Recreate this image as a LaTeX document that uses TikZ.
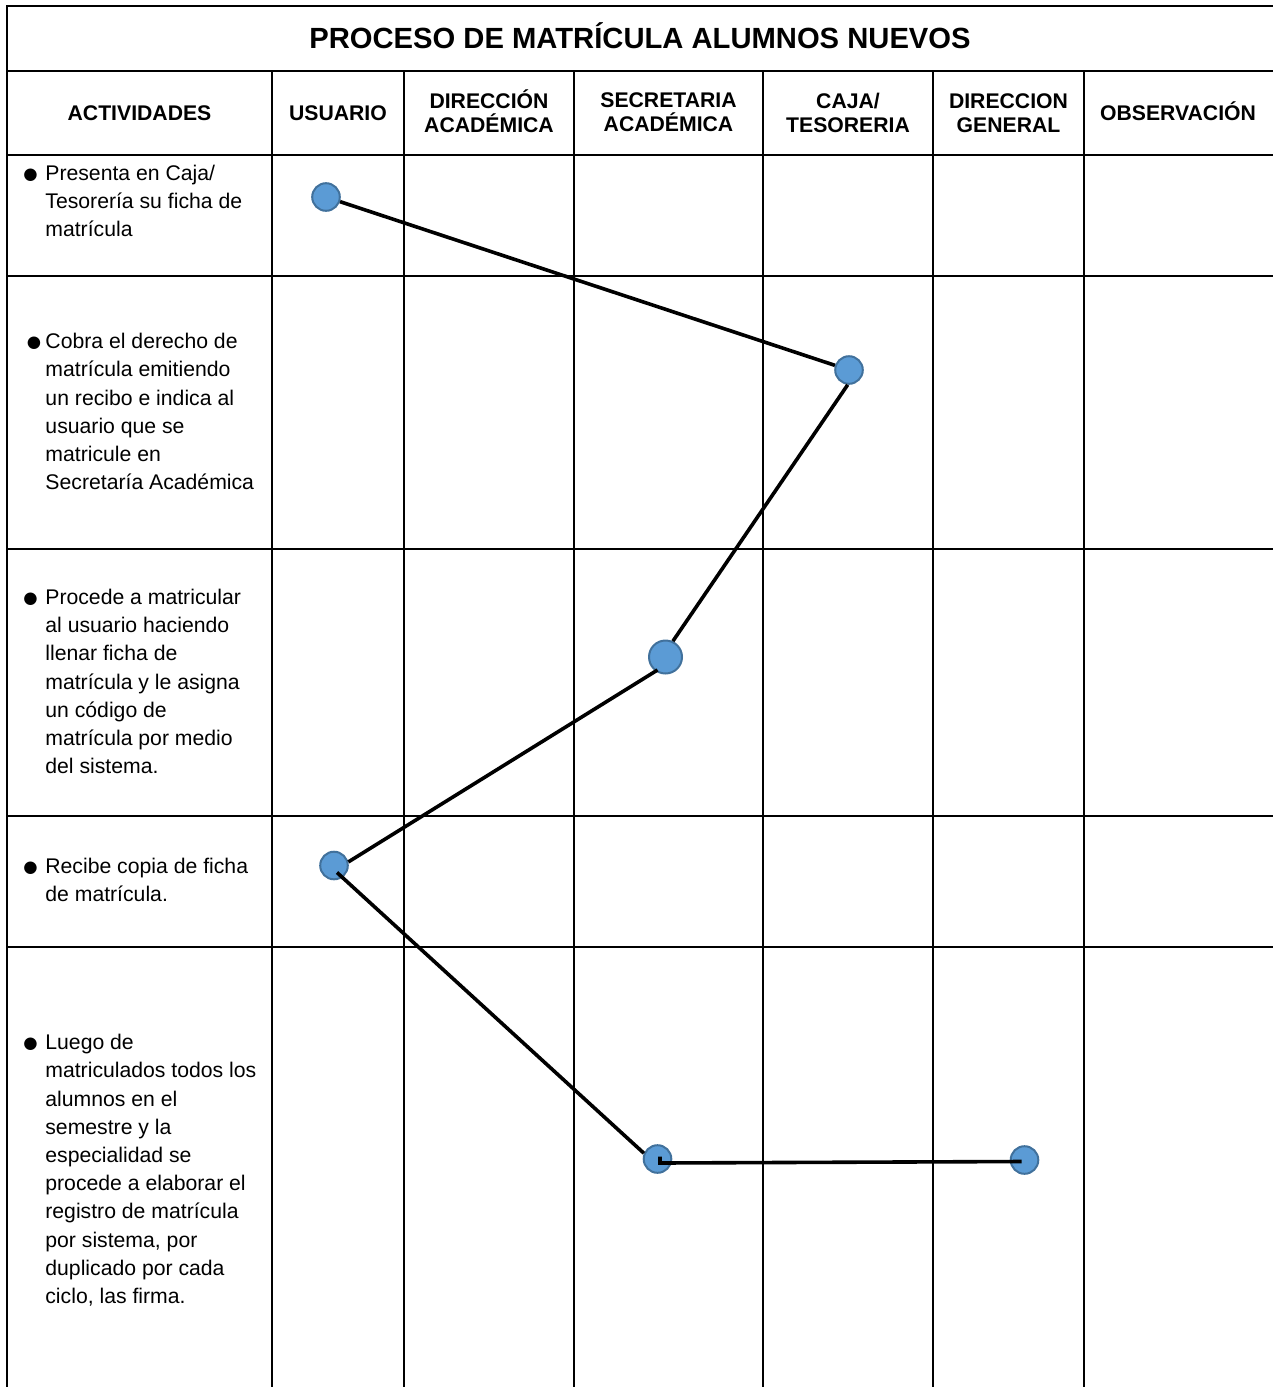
\documentclass[tikz,border=0pt]{standalone}
\usepackage{fontspec}
\setmainfont{Liberation Sans}
\newfontfamily\dejavu{DejaVu Sans}
\usetikzlibrary{calc}
\definecolor{dotfill}{HTML}{5B9BD5}
\definecolor{dotline}{HTML}{41719C}
\newcommand\bul{\raisebox{0.7pt}{\dejavu\fontsize{8.2}{8.2}\selectfont ●}}
\tikzset{
  grid/.style={line width=1pt, black},
  ttl/.style={inner sep=0, font=\fontsize{14.6}{17}\selectfont\bfseries},
  hdr/.style={inner sep=0, align=center, font=\fontsize{10.6}{12}\selectfont\bfseries},
  act/.style={inner sep=0, anchor=west, font=\fontsize{10.6}{14.1}\selectfont},
  dot/.style={circle, fill=dotfill, draw=dotline, line width=1pt, minimum size=13.8pt, inner sep=0},
  bigdot/.style={dot, minimum size=16.5pt},
  link/.style={line width=1.8pt, black}
}
\begin{document}
\begin{tikzpicture}[x=0.5pt, y=-0.5pt]
\useasboundingbox (0,0) rectangle (1273,1387);
% table grid
\draw[grid] (1290,6) -- (7,6) -- (7,1400);
\foreach \yy in {71,155,276,549,816,947} \draw[grid] (7,\yy) -- (1290,\yy);
\foreach \xx in {272,404,574,763,933,1084} \draw[grid] (\xx,71) -- (\xx,1400);
% title and headers
\node[ttl] (title) at (640,36) {PROCESO DE MATRÍCULA ALUMNOS NUEVOS};
\node[hdr] (h1) at (139.5,113.5) {ACTIVIDADES};
\node[hdr] (h2) at (338,113.5) {USUARIO};
\node[hdr] (h3) at (489,111.5) {DIRECCIÓN\\ACADÉMICA};
\node[hdr] (h4) at (668.5,112.5) {SECRETARIA\\ACADÉMICA};
\node[hdr] (h5) at (848,113) {CAJA/\\TESORERIA};
\node[hdr] (h6) at (1008.5,113) {DIRECCION\\GENERAL};
\node[hdr] (h7) at (1178,111.5) {OBSERVACIÓN};
% activities
\node[act] (a1) at (23,203) {\begin{tabular}{@{}p{11pt}@{}l@{}}
\bul & Presenta en Caja/\\
 & Tesorería su ficha de\\
 & matrícula
\end{tabular}};
\node[act] (a2) at (26.5,413.5) {\begin{tabular}{@{}p{9.3pt}@{}l@{}}
\bul & Cobra el derecho de\\
 & matrícula emitiendo\\
 & un recibo e indica al\\
 & usuario que se\\
 & matricule en\\
 & Secretaría Académica
\end{tabular}};
\node[act] (a3) at (23,683.5) {\begin{tabular}{@{}p{11pt}@{}l@{}}
\bul & Procede a matricular\\
 & al usuario haciendo\\
 & llenar ficha de\\
 & matrícula y le asigna\\
 & un código de\\
 & matrícula por medio\\
 & del sistema.
\end{tabular}};
\node[act] (a4) at (23,882) {\begin{tabular}{@{}p{11pt}@{}l@{}}
\bul & Recibe copia de ficha\\
 & de matrícula.
\end{tabular}};
\node[act] (a5) at (23,1171) {\begin{tabular}{@{}p{11pt}@{}l@{}}
\bul & Luego de\\
 & matriculados todos los\\
 & alumnos en el\\
 & semestre y la\\
 & especialidad se\\
 & procede a elaborar el\\
 & registro de matrícula\\
 & por sistema, por\\
 & duplicado por cada\\
 & ciclo, las firma.
\end{tabular}};
% flow points
\node[dot] (c1) at (326,197) {};
\node[dot] (c2) at (849,370) {};
\node[bigdot] (c3) at (665.5,657) {};
\node[dot] (c4) at (334,865.5) {};
\node[dot] (c5) at (657.5,1159) {};
\node[dot] (c6) at (1024.5,1160) {};
% connectors
\draw[link] (c1) -- (c2);
\draw[link] (c2.265) -- (c3.65);
\draw[link] ($(c3.center)+(-8,13)$) -- (c4.14);
\draw[link] ($(c4.center)+(3,7)$) -- (c5.157);
\draw[link] ($(c5.center)+(2.5,-2.5)$) -- ($(c5.center)+(2.5,4)$) -- ($(c6.center)+(-3,1.5)$);
\end{tikzpicture}
\end{document}
